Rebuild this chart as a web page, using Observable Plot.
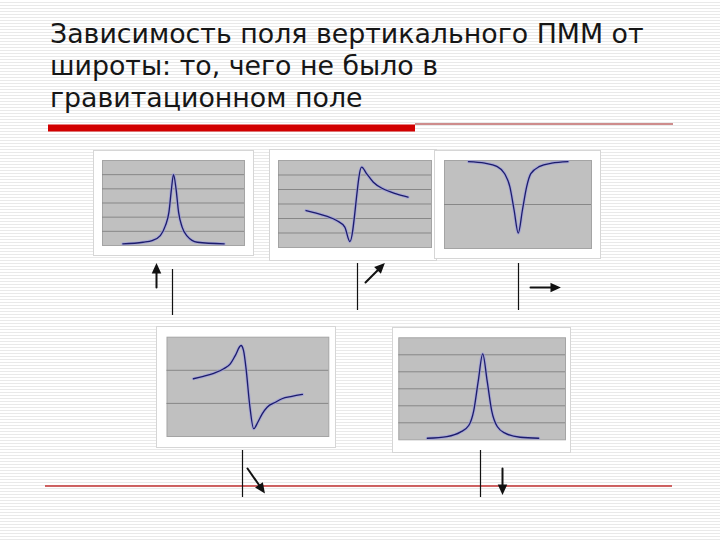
<!DOCTYPE html>
<html><head><meta charset="utf-8">
<script src="https://cdn.jsdelivr.net/npm/d3@7"></script>
<script src="https://cdn.jsdelivr.net/npm/@observablehq/plot@0.6"></script>
<style>
html,body{margin:0;padding:0;}
body{width:720px;height:540px;overflow:hidden;background:repeating-linear-gradient(to bottom,#ffffff 0px,#ffffff 2px,#e9e9e9 2px,#e9e9e9 3px);}
#stage{position:relative;width:720px;height:540px;}
#title{position:absolute;left:50px;top:18px;font-family:"DejaVu Sans";font-size:26.8px;line-height:32px;color:#161616;white-space:nowrap;}
.box{position:absolute;background:#fff;box-shadow:0 0 0 1px #d6d6d6;}
.box svg,#overlay svg{display:block;}
#overlay{position:absolute;left:0;top:0;}
</style></head>
<body><div id="stage"><div id="title"></div></div>
<script>
// ---- text ----
const titleLines = ["Зависимость поля вертикального ПММ от", "широты: то, чего не было в", "гравитационном поле"];

// ---- data ----
// 1: symmetric positive peak
const peakUpX = [-10, -6, -4.2, -2.6, -1.6, -0.9, -0.4, 0, 0.5, 1, 1.7, 2.7, 4.7, 10];
const peakUpY = [0.12, 0.23, 0.35, 0.7, 1.4, 2.35, 4.0, 5.0, 4.0, 2.35, 1.3, 0.66, 0.23, 0.12];
// 2: antisymmetric, minimum then maximum
const minMaxX = [-9.8, -7.8, -5.8, -3.8, -2.2, -1.2, 1.1, 2.1, 3.4, 5.3, 7.9, 10.2];
const minMaxY = [-0.45, -0.63, -0.84, -1.14, -1.6, -2.59, 2.54, 2.08, 1.5, 1.05, 0.7, 0.47];
// 3: symmetric negative dip
const dipX = [-9.5, -6.4, -4.1, -2.6, -1.6, -0.8, 0, 0.8, 1.6, 2.4, 4.1, 6.4, 9.5];
const dipY = [-0.05, -0.12, -0.27, -0.6, -1.2, -2.25, -3.3, -2.25, -1.2, -0.6, -0.27, -0.12, -0.05];
// 4: antisymmetric, maximum then minimum
const maxMinX = [-9.8, -8.0, -6.1, -4.3, -3.1, -2.2, -1.15, -0.7, -0.2, 0.4, 1.15, 1.9, 2.7, 3.6, 5.1, 6.3, 8.1, 10];
const maxMinY = [0.49, 0.63, 0.82, 1.09, 1.39, 1.89, 2.5, 2.2, 1.0, -1.02, -2.53, -2.14, -1.63, -1.23, -0.93, -0.72, -0.58, -0.46];
// 5: symmetric positive peak
const peak2X = [-9.9, -6.4, -4.0, -2.5, -1.6, -0.8, 0, 0.8, 1.6, 2.6, 4.0, 6.7, 10];
const peak2Y = [0.09, 0.19, 0.45, 0.84, 1.72, 3.45, 5.06, 3.45, 1.72, 0.78, 0.39, 0.15, 0.09];

// direction of the magnetisation vector under each panel, degrees from horizontal
const fieldAngles = [90, 45, 0, -55, -90];

// ---- layout (positions / sizes / styles) ----
const panels = [
  {xs: peakUpX, ys: peakUpY, left: 94, top: 151, w: 159, h: 104, ml: 8, mr: 9, mt: 9, mb: 10, xd: [-14, 14], yd: [0, 6], grid: [1, 2, 3, 4, 5]},
  {xs: minMaxX, ys: minMaxY, left: 270, top: 150, w: 166, h: 110, ml: 8, mr: 5, mt: 10, mb: 13, xd: [-15.2, 14.8], yd: [-3, 3], grid: [-2, -1, 0, 1, 2]},
  {xs: dipX, ys: dipY, left: 435, top: 151, w: 165, h: 107, ml: 9, mr: 9, mt: 9, mb: 10, xd: [-14.1, 14.0], yd: [-4, 0], grid: [-2]},
  {xs: maxMinX, ys: maxMinY, left: 157, top: 327, w: 178, h: 120, ml: 9.5, mr: 6.7, mt: 9.7, mb: 11, xd: [-14.6, 14.8], yd: [-3, 3], grid: [-1, 1]},
  {xs: peak2X, ys: peak2Y, left: 393, top: 328, w: 177, h: 124, ml: 5.3, mr: 5, mt: 9.3, mb: 12.7, xd: [-15, 14.8], yd: [0, 6], grid: [1, 2, 3, 4, 5]}
];
const indicatorLayout = [
  {lx: 172, ly1: 269, ly2: 315, ax: 156, ay: 287, len: 22},
  {lx: 357, ly1: 263, ly2: 310, ax: 365, ay: 282, len: 25},
  {lx: 518, ly1: 263, ly2: 310, ax: 530, ay: 287, len: 28},
  {lx: 242, ly1: 450, ly2: 497, ax: 247, ay: 468, len: 28},
  {lx: 480, ly1: 450, ly2: 497, ax: 502, ay: 468, len: 24}
];
const redRules = [
  {y: 127.5, x1: 48, x2: 415, w: 7, c: "#d20000"},
  {y: 123.5, x1: 415, x2: 673, w: 1.2, c: "#9e1a1a"},
  {y: 485.5, x1: 45, x2: 672, w: 1.3, c: "#c03030"}
];

// filled-head arrow shape for Plot.vector
const filledArrow = {
  draw(ctx, l) {
    const hl = 7, hw = 3.2;
    ctx.moveTo(0, 0);
    ctx.lineTo(0, -l + hl * 0.6);
    ctx.moveTo(-hw, -l + hl);
    ctx.lineTo(0, -l);
    ctx.lineTo(hw, -l + hl);
    ctx.closePath();
  }
};

// ---- title ----
document.getElementById("title").innerHTML = titleLines.join("<br>");
const stage = document.getElementById("stage");

// ---- panels ----
panels.forEach(p => {
  const data = p.xs.map((x, i) => ({x, y: p.ys[i]}));
  const chart = Plot.plot({
    width: p.w, height: p.h,
    marginLeft: p.ml, marginRight: p.mr, marginTop: p.mt, marginBottom: p.mb,
    x: {domain: p.xd, axis: null},
    y: {domain: p.yd, axis: null},
    style: {background: "none", overflow: "visible"},
    marks: [
      Plot.frame({fill: "#c0c0c0", stroke: "#a4a4a4"}),
      Plot.ruleY(p.grid, {stroke: "#878787", strokeWidth: 1}),
      Plot.line(data, {x: "x", y: "y", stroke: "#9c9cdc", strokeWidth: 3.2, strokeOpacity: 0.7, curve: "monotone-x"}),
      Plot.line(data, {x: "x", y: "y", stroke: "#1c1c6c", strokeWidth: 1.3, curve: "monotone-x"})
    ]
  });
  const box = document.createElement("div");
  box.className = "box";
  box.style.left = p.left + "px";
  box.style.top = p.top + "px";
  box.style.width = p.w + "px";
  box.style.height = p.h + "px";
  box.appendChild(chart);
  stage.appendChild(box);
});

// ---- rules and field arrows ----
const arrows = indicatorLayout.map((d, i) => ({x: d.ax, y: d.ay, len: d.len, rot: 90 - fieldAngles[i]}));
const overlay = Plot.plot({
  width: 720, height: 540,
  margin: 0,
  x: {domain: [0, 720], range: [0, 720], axis: null},
  y: {domain: [0, 540], range: [0, 540], axis: null},
  length: {type: "identity"},
  style: {background: "none"},
  marks: [
    Plot.ruleY(redRules, {y: "y", x1: "x1", x2: "x2", stroke: "c", strokeWidth: "w"}),
    Plot.ruleX(indicatorLayout, {x: "lx", y1: "ly1", y2: "ly2", stroke: "#111", strokeWidth: 1.2}),
    Plot.vector(arrows, {x: "x", y: "y", length: "len", rotate: "rot", anchor: "start", shape: filledArrow, stroke: "#111", fill: "#111", strokeWidth: 2, strokeLinejoin: "miter"})
  ]
});
const ov = document.createElement("div");
ov.id = "overlay";
ov.appendChild(overlay);
stage.appendChild(ov);
</script>
</body></html>
